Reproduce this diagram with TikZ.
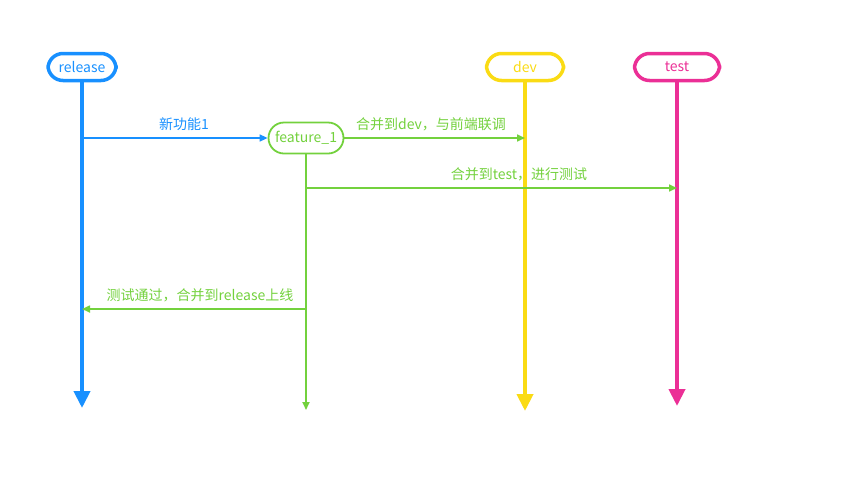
\documentclass[tikz,border=0pt]{standalone}
\usepackage{fontspec}
\setmainfont{Noto Sans CJK SC}
\usetikzlibrary{arrows.meta,positioning,calc}
\definecolor{flowblue}{RGB}{24,144,255}
\definecolor{flowyellow}{RGB}{250,219,20}
\definecolor{flowpink}{RGB}{235,47,150}
\definecolor{flowgreen}{RGB}{115,209,61}
\tikzset{
  branch box/.style={
    draw=#1,
    text=#1,
    rounded corners=15pt,
    line width=3.5pt,
    minimum height=27pt,
    inner sep=0pt,
    font=\fontsize{14}{16}\selectfont,
  },
  life line/.style={
    draw=#1,
    line width=4pt,
    -{Triangle[length=17pt,width=16pt]},
  },
  msg arrow/.style={
    draw=#1,
    line width=1.6pt,
    -{Triangle[length=8pt,width=7pt]},
  },
  msg label/.style={
    text=#1,
    above=3pt,
    font=\fontsize{14}{16}\selectfont,
  },
}

\begin{document}
\begin{tikzpicture}[x=1pt,y=-1pt]
  \useasboundingbox (0,0) rectangle (864,483);

  % branch heads
  \node[branch box=flowblue, minimum width=68pt] (release) at (82,67) {release};
  \node[branch box=flowyellow, minimum width=77pt] (dev) at (525,67) {dev};
  \node[branch box=flowpink, minimum width=85pt] (test) at (677,67) {test};
  \node[branch box=flowgreen, line width=1.8pt, minimum width=75pt, minimum height=31pt,
    rounded corners=15.5pt] (feature) at (306,138) {feature\_1};

  % lifeline ends
  \coordinate (releaseend) at (82,408);
  \coordinate (devend) at (525,411);
  \coordinate (testend) at (677,406);
  \coordinate (featureend) at (306,410);

  \draw[life line=flowblue] (release.south) -- (releaseend);
  \draw[life line=flowyellow] (dev.south) -- (devend);
  \draw[life line=flowpink] (test.south) -- (testend);
  \draw[draw=flowgreen, line width=1.8pt, -{Triangle[length=8pt,width=7pt]}]
    (feature.south) -- (featureend);

  % message points on the lifelines
  \coordinate (newfrom) at (82,138);
  \coordinate (devto) at (525,138);
  \coordinate (testfrom) at (306,188);
  \coordinate (testto) at (677,188);
  \coordinate (backfrom) at (306,309);
  \coordinate (backto) at (82,309);

  \draw[msg arrow=flowblue] (newfrom) -- (feature.west)
    node[msg label=flowblue, pos=0.55] {新功能1};
  \draw[msg arrow=flowgreen] (feature.east) -- (devto)
    node[msg label=flowgreen, pos=0.48] {合并到dev，与前端联调};
  \draw[msg arrow=flowgreen] (testfrom) -- (testto)
    node[msg label=flowgreen, pos=0.574] {合并到test，进行测试};
  \draw[msg arrow=flowgreen] (backfrom) -- (backto)
    node[msg label=flowgreen, pos=0.473] {测试通过，合并到release上线};
\end{tikzpicture}
\end{document}
